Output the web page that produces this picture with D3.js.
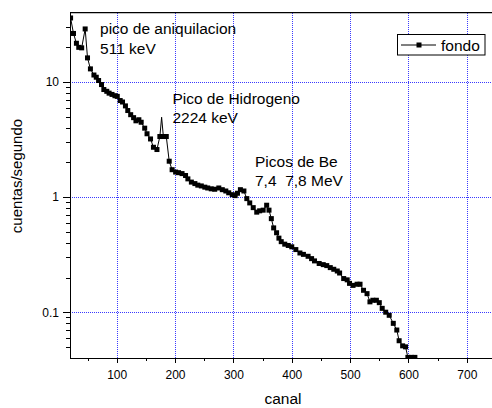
<!DOCTYPE html>
<html>
<head>
<meta charset="utf-8">
<script src="https://cdn.jsdelivr.net/npm/d3@7"></script>
<style>
  html, body { margin: 0; padding: 0; background: #fff; }
  svg { display: block; font-family: "Liberation Sans", Arial, sans-serif; }
  .axis path, .axis line { stroke: #000; shape-rendering: crispEdges; }
  .axis text { font-size: 12px; fill: #000; }
</style>
</head>
<body>
<svg id="chart" width="492" height="408"></svg>
<script>
// Espectro de fondo: canal vs cuentas/segundo
const canal = [
  21, 26, 31, 35, 40, 46, 50, 55, 61, 65, 69, 74, 78, 83, 87, 92, 97, 101, 106, 110,
  115, 119, 124, 129, 133, 138, 142, 148, 152, 158, 163, 169, 174, 180, 185, 190, 195, 201, 206, 212,
  218, 222, 228, 234, 239, 245, 251, 256, 262, 268, 275, 281, 287, 292, 298, 303, 307, 312, 318, 323,
  328, 334, 340, 345, 351, 357, 361, 365, 369, 374, 378, 382, 388, 394, 400, 407, 414, 420, 428, 434,
  439, 447, 454, 460, 466, 472, 478, 482, 489, 495, 499, 505, 512, 517, 523, 529, 534, 539, 545, 550,
  555, 561, 567, 574, 580, 584, 590, 595, 599, 605, 611
];
const cuentas = [
  36, 26.4, 21.7, 20, 19.8, 28.9, 16.2, 13, 11.5, 11, 10.3, 9.5, 8.6, 8.3, 8.0, 7.8, 7.6, 7.5, 6.9, 6.7,
  6.2, 5.65, 5.2, 4.9, 4.6, 4.7, 4.47, 3.97, 3.55, 3.2, 2.71, 2.59, 3.36, 3.36, 3.36, 2.05, 1.73, 1.65, 1.63, 1.6,
  1.54, 1.44, 1.35, 1.31, 1.27, 1.25, 1.22, 1.2, 1.18, 1.17, 1.2, 1.16, 1.13, 1.09, 1.05, 1.03, 1.08, 1.16, 1.13, 0.97,
  0.89, 0.81, 0.74, 0.76, 0.77, 0.85, 0.77, 0.65, 0.54, 0.49, 0.44, 0.41, 0.39, 0.38, 0.37, 0.35, 0.327, 0.318, 0.306, 0.292,
  0.279, 0.265, 0.259, 0.254, 0.244, 0.236, 0.228, 0.219, 0.196, 0.191, 0.178, 0.171, 0.175, 0.175, 0.155, 0.145, 0.123, 0.127, 0.127, 0.121,
  0.108, 0.100, 0.094, 0.080, 0.070, 0.0565, 0.051, 0.050, 0.0405, 0.0405, 0.0405
];
// Canal único del pico de hidrógeno (solo unido por la línea)
const picoHCanal = [177];
const picoHCuentas = [4.94];

const xTicks = [100, 200, 300, 400, 500, 600, 700];
const xMinorTicks = [50, 150, 250, 350, 450, 550, 650, 750];
const yTicks = [0.1, 1, 10];
const yTickLabels = ["0.1", "1", "10"];
const yMinorTicks = [0.05, 0.06, 0.07, 0.08, 0.09, 0.2, 0.3, 0.4, 0.5, 0.6, 0.7, 0.8, 0.9,
                     2, 3, 4, 5, 6, 7, 8, 9, 20, 30];

const anotaciones = [
  { lineas: ["pico de aniquilacion", "511 keV"], canal: 71.5, valor: 26 },
  { lineas: ["Pico de Hidrogeno", "2224 keV"], canal: 195.5, valor: 6.5 },
  { lineas: ["Picos de Be", "7,4\u00A0\u00A07,8 MeV"], canal: 337, valor: 1.84 }
];
const serieNombre = "fondo";

const svg = d3.select("#chart");
const mLeft = 70, mRight = 496, mTop = 12.7, mBottom = 358;

const x = d3.scaleLinear().domain([20, 750]).range([mLeft, mRight]);
const y = d3.scaleLog().domain([0.04, 40]).range([mBottom, mTop]);

const plot = svg.append("g");
svg.append("clipPath").attr("id", "clip")
  .append("rect").attr("x", mLeft).attr("y", mTop).attr("width", mRight - mLeft).attr("height", mBottom - mTop);

// rejilla punteada azul
const grid = plot.append("g").attr("stroke", "#3a3aff").attr("stroke-width", 1)
  .attr("stroke-dasharray", "1,1").attr("shape-rendering", "crispEdges");
grid.selectAll(".gx").data(xTicks).join("line")
  .attr("x1", d => Math.round(x(d)) + 0.5).attr("x2", d => Math.round(x(d)) + 0.5)
  .attr("y1", mTop).attr("y2", mBottom);
grid.selectAll(".gy").data(yTicks).join("line")
  .attr("x1", mLeft).attr("x2", mRight)
  .attr("y1", d => Math.round(y(d)) + 0.5).attr("y2", d => Math.round(y(d)) + 0.5);

// ejes
const xAxis = d3.axisBottom(x).tickValues(xTicks).tickFormat(d3.format("d"))
  .tickSizeInner(5).tickSizeOuter(0).tickPadding(4);
const gx = svg.append("g").attr("class", "axis").attr("transform", `translate(0,${mBottom})`).call(xAxis);
gx.select(".domain").attr("stroke-width", 1.3);
gx.selectAll("text").attr("dy", "0.71em").attr("y", 12);
const gxm = svg.append("g").attr("class", "axis").attr("transform", `translate(0,${mBottom})`)
  .call(d3.axisBottom(x).tickValues(xMinorTicks.filter(v => x(v) <= 492)).tickFormat("").tickSizeInner(3).tickSizeOuter(0));
gxm.select(".domain").remove();

const yAxis = d3.axisLeft(y).tickValues(yTicks).tickFormat((d, i) => yTickLabels[i])
  .tickSizeInner(7).tickSizeOuter(0).tickPadding(4);
const gy = svg.append("g").attr("class", "axis").attr("transform", `translate(${mLeft},0)`).call(yAxis);
gy.select(".domain").attr("stroke-width", 1.3);
const gym = svg.append("g").attr("class", "axis").attr("transform", `translate(${mLeft},0)`)
  .call(d3.axisLeft(y).tickValues(yMinorTicks).tickFormat("").tickSizeInner(4).tickSizeOuter(0));
gym.select(".domain").remove();

// marco superior
svg.append("line").attr("x1", mLeft).attr("x2", mRight).attr("y1", mTop).attr("y2", mTop)
  .attr("stroke", "#000").attr("stroke-width", 1.3);

// títulos de ejes
svg.append("text").attr("x", 283).attr("y", 404).attr("text-anchor", "middle")
  .attr("font-size", 15.5).text("canal");
svg.append("text").attr("transform", "translate(22,176) rotate(-90)").attr("text-anchor", "middle")
  .attr("font-size", 15).text("cuentas/segundo");

// serie
const puntos = canal.map((c, i) => ({ c, v: cuentas[i] }));
const linea = puntos.concat(picoHCanal.map((c, i) => ({ c, v: picoHCuentas[i] })))
  .sort((a, b) => a.c - b.c);
const serie = plot.append("g").attr("clip-path", "url(#clip)");
serie.append("path").datum(linea)
  .attr("fill", "none").attr("stroke", "#000").attr("stroke-width", 1)
  .attr("d", d3.line().x(d => x(d.c)).y(d => y(d.v)));
serie.selectAll("rect").data(puntos).join("rect")
  .attr("x", d => x(d.c) - 2.5).attr("y", d => y(d.v) - 2.5)
  .attr("width", 5).attr("height", 5).attr("fill", "#000");

// anotaciones
anotaciones.forEach(a => {
  const t = svg.append("text").attr("font-size", 15.5).attr("fill", "#000");
  a.lineas.forEach((l, i) => {
    t.append("tspan").attr("x", x(a.canal)).attr("y", y(a.valor) + i * 19.5).text(l);
  });
});

// leyenda
const leg = svg.append("g");
leg.append("rect").attr("x", 397.5).attr("y", 34.5).attr("width", 87.5).attr("height", 20.5)
  .attr("fill", "#fff").attr("stroke", "#000").attr("stroke-width", 1);
leg.append("line").attr("x1", 401).attr("x2", 436).attr("y1", 45).attr("y2", 45)
  .attr("stroke", "#000").attr("stroke-width", 1);
leg.append("rect").attr("x", 416.5).attr("y", 42.5).attr("width", 5).attr("height", 5).attr("fill", "#000");
leg.append("text").attr("x", 441).attr("y", 50.5).attr("font-size", 15.5).text(serieNombre);
</script>
</body>
</html>
